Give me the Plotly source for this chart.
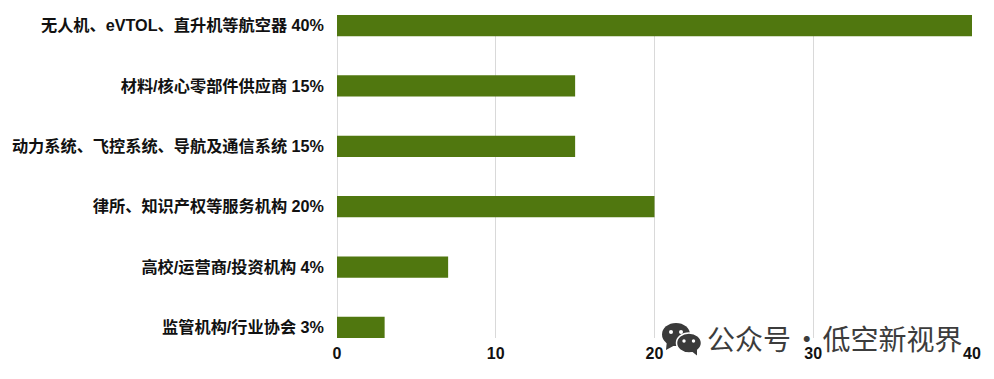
import plotly.graph_objects as go

categories = ["无人机、eVTOL、直升机等航空器 40%", "材料/核心零部件供应商 15%",
              "动力系统、飞控系统、导航及通信系统 15%", "律所、知识产权等服务机构 20%",
              "高校/运营商/投资机构 4%", "监管机构/行业协会 3%"]
values = [40, 15, 15, 20, 7, 3]
x_ticks = [0, 10, 20, 30, 40]
watermark = "公众号\u200a·\u200a低空新视界"

W, H = 994, 379
PAGE = 8  # the browser's default page margin shifts the figure by this much
FW, FH = W - 2 * PAGE, H - 2 * PAGE
FONT = "Liberation Sans, Noto Sans CJK SC, sans-serif"
# plot-area edges in screen pixels
L, R, T, B = 337, 972, 15, 338


def px(x):
    return (x - L) / (R - L)


def py(y):
    return (B - y) / (B - T)


fig = go.Figure(go.Bar(y=categories, x=values, orientation="h", width=0.35,
                       marker=dict(color="#50770F", line_width=0)))


def circle(x0, x1, y0, y1, fill, line=None):
    return dict(type="circle", xref="paper", yref="paper", x0=px(x0), x1=px(x1), y0=py(y0), y1=py(y1),
                fillcolor=fill, line=dict(color=line or fill, width=1.5 if line else 0))


def tri(pts, fill):
    p = "M " + " L ".join(f"{px(a):.5f},{py(b):.5f}" for a, b in pts) + " Z"
    return dict(type="path", xref="paper", yref="paper", path=p, fillcolor=fill, line_width=0)


ICON = "#3a3a3a"
shapes = [
    tri([(667, 340), (666, 350), (677, 344)], ICON),
    circle(662, 690, 323, 346, ICON),
    circle(676.5, 701.5, 333, 353, ICON, "#ffffff"),
    tri([(690, 350), (697, 355.5), (697, 348)], ICON),
]
for cx, cy, r in [(671, 332, 2), (681, 332, 2), (684, 341, 1.7), (693.5, 341, 1.7)]:
    shapes.append(circle(cx - r, cx + r, cy - r, cy + r, "#ffffff"))

fig.update_layout(
    width=FW, height=FH, autosize=False,
    margin=dict(l=L - PAGE, r=FW - (R - PAGE), t=T - PAGE, b=FH - (B - PAGE), pad=0, autoexpand=False),
    paper_bgcolor="#ffffff", plot_bgcolor="#ffffff",
    font=dict(family=FONT, size=16, color="#111111"),
    showlegend=False, shapes=shapes,
    xaxis=dict(range=[0, 40], tickvals=x_ticks, showgrid=True, gridcolor="#d9d9d9", gridwidth=1,
               zeroline=True, zerolinecolor="#d9d9d9", zerolinewidth=1, showline=False, ticks="",
               ticklabelstandoff=4,
               tickfont=dict(family=FONT, size=16, color="#111111", weight="bold")),
    yaxis=dict(range=[5.175, -0.175], showgrid=False, zeroline=False, showline=False, ticks="",
               ticklabelstandoff=12,
               tickfont=dict(family=FONT, size=16.2, color="#111111", weight="bold")),
    annotations=[dict(text=watermark, xref="paper", yref="paper", x=px(705), y=py(338),
                      xanchor="left", yanchor="middle", showarrow=False,
                      font=dict(family="Noto Sans CJK SC, sans-serif", size=28, color="#3c3c3c"))],
)
fig.write_html("out.html")
